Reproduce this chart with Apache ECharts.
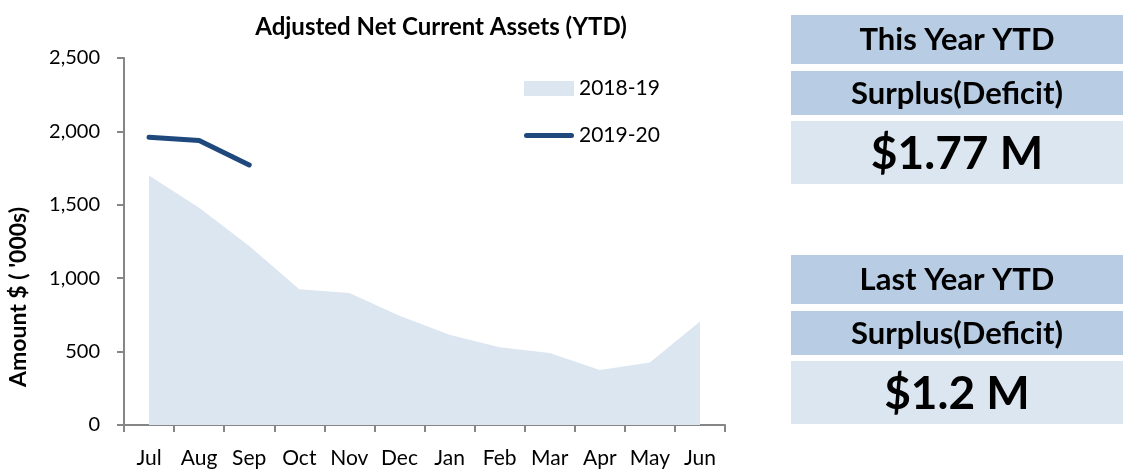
<!DOCTYPE html>
<html>
<head>
<meta charset="utf-8">
<script src="https://cdn.jsdelivr.net/npm/echarts@6/dist/echarts.min.js"></script>
<style>
  html, body { margin: 0; padding: 0; background: #fff; }
  #chart { width: 1123px; height: 471px; }
</style>
</head>
<body>
<div id="chart"></div>
<script>
const months = ["Jul", "Aug", "Sep", "Oct", "Nov", "Dec", "Jan", "Feb", "Mar", "Apr", "May", "Jun"];
// amounts in $'000s
const lastYear = [1700, 1480, 1220, 925, 900, 745, 615, 530, 490, 375, 425, 705];
const thisYear = [1960, 1938, 1771];
const seriesNames = ["2018-19", "2019-20"];
const yTicks = { min: 0, max: 2500, step: 500 };

// summary boxes on the right
const panelHeads = [["This Year YTD", "Surplus(Deficit)"], ["Last Year YTD", "Surplus(Deficit)"]];
const panelValues = ["$1.77 M", "$1.2 M"];

const FONT = "Lato, 'Open Sans', sans-serif";
const chart = echarts.init(document.getElementById("chart"));

// one panel = 2 header strips + value strip
const panelGraphic = (top, heads, value) => [
  { type: "rect", x: 791, y: top, shape: { width: 332, height: 49 }, style: { fill: "#B8CCE4" } },
  {
    type: "text", x: 957, y: top + 25,
    style: { text: heads[0], font: "bold 31px " + FONT, fill: "#000", align: "center", verticalAlign: "middle" }
  },
  { type: "rect", x: 791, y: top + 56, shape: { width: 332, height: 44 }, style: { fill: "#B8CCE4" } },
  {
    type: "text", x: 957, y: top + 79,
    style: { text: heads[1], font: "bold 31px " + FONT, fill: "#000", align: "center", verticalAlign: "middle" }
  },
  { type: "rect", x: 791, y: top + 106, shape: { width: 332, height: 63 }, style: { fill: "#DCE6F1" } },
  {
    type: "text", x: 957, y: top + 139,
    style: { text: value, font: "bold 46px " + FONT, fill: "#000", align: "center", verticalAlign: "middle" }
  }
];

const option = {
  animation: false,
  backgroundColor: "#fff",
  textStyle: { fontFamily: FONT },
  title: {
    text: "Adjusted Net Current Assets (YTD)",
    left: 436, top: 10,
    textAlign: "center",
    textStyle: { fontSize: 24, fontWeight: "bold", color: "#000", fontFamily: FONT }
  },
  legend: {
    orient: "vertical",
    left: 524, top: 78,
    padding: 0,
    itemWidth: 50, itemHeight: 15,
    itemGap: 26,
    textStyle: { fontSize: 21, color: "#000", fontFamily: FONT },
    data: [
      { name: seriesNames[0], icon: "rect" },
      { name: seriesNames[1], icon: "path://M2.5,0 H47.5 A2.5,2.5 0 0 1 47.5,5 H2.5 A2.5,2.5 0 0 1 2.5,0 Z" }
    ]
  },
  grid: { left: 124, right: 398, top: 58, bottom: 46 },
  xAxis: {
    type: "category",
    data: months,
    boundaryGap: true,
    axisLine: { lineStyle: { color: "#868686", width: 2 } },
    axisTick: { show: true, length: 7, lineStyle: { color: "#868686", width: 2 } },
    axisLabel: { fontSize: 21, color: "#000", margin: 23, interval: 0 }
  },
  yAxis: {
    type: "value",
    min: yTicks.min, max: yTicks.max, interval: yTicks.step,
    axisLine: { show: true, lineStyle: { color: "#868686", width: 2 } },
    axisTick: { show: true, length: 7, lineStyle: { color: "#868686", width: 2 } },
    splitLine: { show: false },
    axisLabel: {
      fontSize: 20, color: "#000", margin: 24,
      formatter: v => v.toLocaleString("en-US")
    }
  },
  series: [
    {
      name: seriesNames[0],
      type: "line",
      data: lastYear,
      symbol: "none",
      color: "#DCE6F1",
      lineStyle: { width: 0 },
      areaStyle: { color: "#DCE6F1", opacity: 1 },
      z: 1
    },
    {
      name: seriesNames[1],
      type: "line",
      data: thisYear,
      symbol: "none",
      color: "#1F497D",
      lineStyle: { width: 5, cap: "round", join: "round", color: "#1F497D" },
      z: 2
    }
  ],
  graphic: [
    {
      type: "text", x: 19, y: 297, rotation: Math.PI / 2,
      style: { text: "Amount $ ( '000s)", font: "bold 23px " + FONT, fill: "#000", align: "center", verticalAlign: "middle" }
    },
    ...panelGraphic(15, panelHeads[0], panelValues[0]),
    ...panelGraphic(255, panelHeads[1], panelValues[1])
  ]
};

chart.setOption(option);
</script>
</body>
</html>
